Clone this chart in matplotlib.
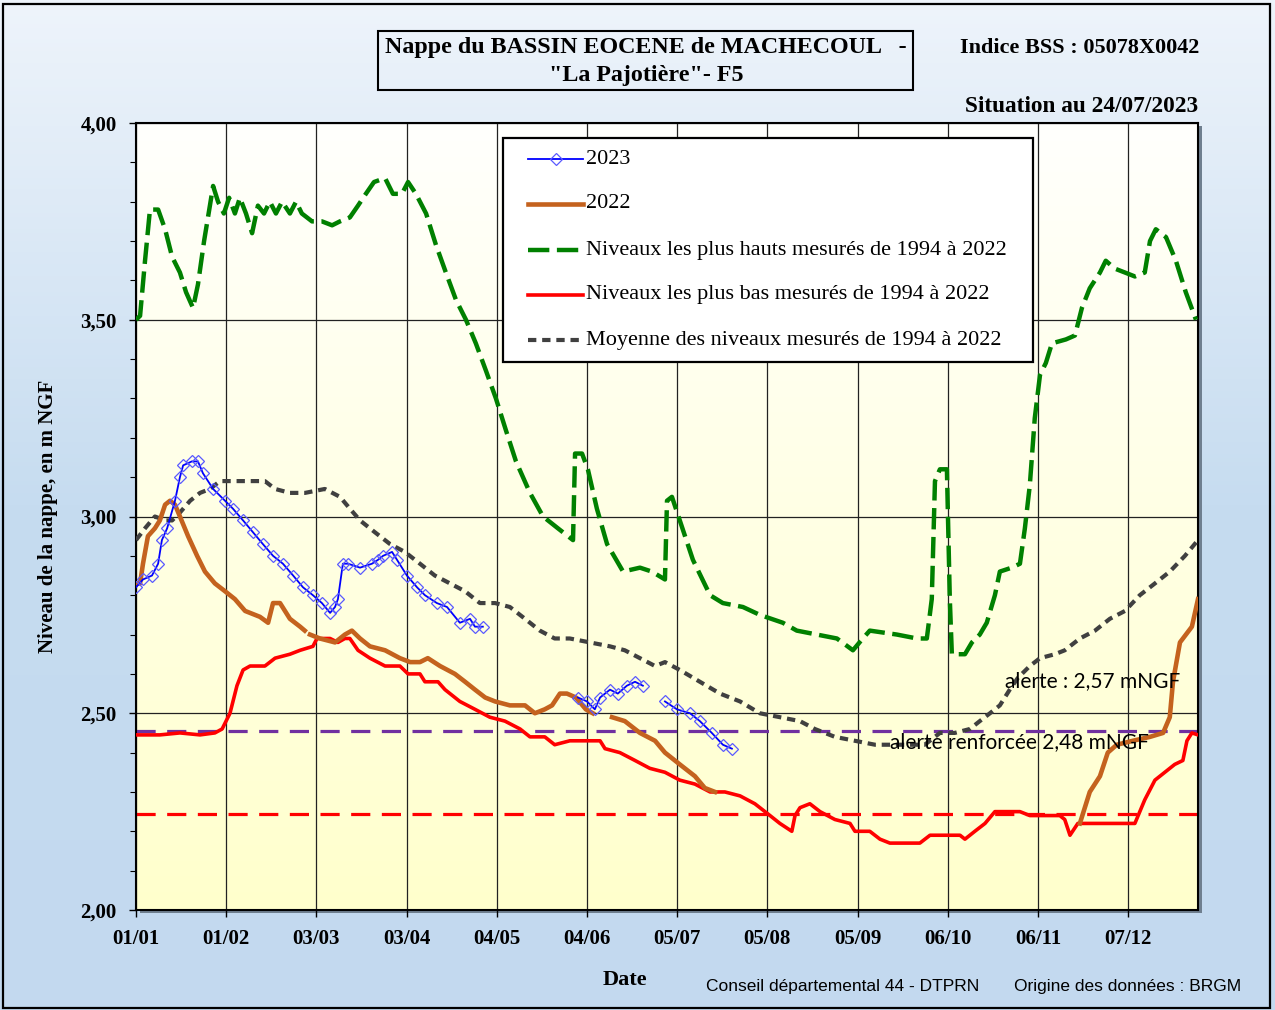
import numpy as np
import matplotlib
matplotlib.use("Agg")
import matplotlib.pyplot as plt
from matplotlib.lines import Line2D
from matplotlib.patches import Rectangle
from matplotlib.colors import LinearSegmentedColormap
from matplotlib.ticker import FuncFormatter, MultipleLocator

# jours depuis le 01/01 et niveaux en m NGF
j_2023 = [0, 2.4, 5.5, 7.6, 8.9, 10.7, 13.4, 15.1, 16.2, 19.2, 21.3, 23, 26.5, 30.6, 33.3, 36.8,
          40.2, 43.6, 47.1, 50.5, 54, 57.4, 60.8, 63.9, 66.7, 68.4, 69.4, 71.1, 72.9, 77, 81.1,
          83.2, 84.9, 88, 89.7, 93.1, 96.6, 99.3, 103.4, 106.9, 111.3, 114.8, 116.5, 119.2,
          np.nan,
          151.9, 155, 157.7, 159.5, 162.9, 165.6, 168.7, 171.5, 174.2,
          np.nan,
          181.8, 185.9, 190.4, 193.8, 197.9, 201.7, 204.8]
niv_2023 = [2.82, 2.84, 2.85, 2.88, 2.94, 2.97, 3.04, 3.10, 3.13, 3.14, 3.14, 3.11, 3.07, 3.04, 3.02, 2.99,
            2.96, 2.93, 2.90, 2.88, 2.85, 2.82, 2.80, 2.78, 2.755, 2.77, 2.79, 2.88, 2.88, 2.87, 2.88,
            2.89, 2.90, 2.91, 2.89, 2.85, 2.82, 2.80, 2.78, 2.77, 2.73, 2.74, 2.72, 2.72,
            np.nan,
            2.54, 2.53, 2.51, 2.54, 2.56, 2.55, 2.57, 2.58, 2.57,
            np.nan,
            2.53, 2.51, 2.50, 2.48, 2.45, 2.42, 2.41]

j_2022 = [0, 1.4, 2.4, 4.1, 6.5, 8.2, 10, 11.7, 13.4, 15.1, 17.9, 21, 23.7, 27.1, 30.6, 34, 37.5,
          42.6, 45.4, 47.1, 49.5, 52.9, 56.4, 58, np.nan, 59.8, 63.2, 68.4, 71.8, 74.2, 77, 80.4,
          85.6, 90.7, 94.2, 97.6, 100.3, 104.5, 109.6, 113.1, 116.5, 120, 123.4, 128.5, 133.7,
          137.1, 140.5, 143, 145.7, 148.1, 151.2, 154.6, 157, np.nan, 163.6, 168, 173.2, 178.4,
          181.8, 186.9, 192.1, 195.5, 199, np.nan,
          324.4, 327.8, 331.3, 334, 337.1, 342.6, 348.5, 353, 355.3, 356.4, 358.8, 362.9, 365]
niv_2022 = [2.83, 2.83, 2.88, 2.95, 2.97, 2.99, 3.03, 3.04, 3.03, 3.00, 2.95, 2.90, 2.86, 2.83, 2.81, 2.79, 2.76,
            2.745, 2.73, 2.78, 2.78, 2.74, 2.72, 2.71, np.nan, 2.70, 2.69, 2.68, 2.70, 2.71, 2.69, 2.67,
            2.66, 2.64, 2.63, 2.63, 2.64, 2.62, 2.60, 2.58, 2.56, 2.54, 2.53, 2.52, 2.52,
            2.50, 2.51, 2.52, 2.55, 2.55, 2.54, 2.51, 2.50, np.nan, 2.49, 2.48, 2.45, 2.43,
            2.40, 2.37, 2.34, 2.31, 2.30, np.nan,
            2.22, 2.30, 2.34, 2.40, 2.42, 2.43, 2.44, 2.45, 2.49, 2.58, 2.68, 2.72, 2.79]

j_max = [0, 1.4, 3.1, 4.8, 7.6, 10, 12.4, 15.1, 17.2, 19.6, 21.3, 23.4, 25.4, 26.5, 28.2, 30.2, 32,
         34, 35.7, 37.8, 39.9, 41.9, 44, 46, 48.1, 50.2, 52.9, 55, 57, 60.5, 63.9, 67.4, 70.1,
         73.5, 76.3, 79, 81.8, 85.6, 88.3, 91.4, 93.5, 96.2, 99.7, 103.1, 106.5, 110, 113.4,
         116.8, 120.3, 123.7, 127.1, 130.6, 135.4, 139.9, 145, 150.2, 150.9, 153.3, 155.3,
         158.4, 161.9, 167.4, 173.2, 177.3, 181.8, 182.5, 184.2, 186.9, 191.4, 197.3, 201.7,
         208.6, 214.4, 222.3, 227.1, 234, 240.9, 246.4, 249.8, 252.2, 261.5, 268.4, 271.8,
         273.5, 274.6, 276.3, 278.7, 279.7, 280.4, 284.9, 287.3, 290, 292.4, 295.2, 296.9,
         301, 303.8, 305.5, 307.2, 308.9, 310.7, 312.7, 314.8, 319.6, 322.7, 325.1, 327.8,
         331.3, 333.3, 336.4, 339.9, 343.3, 346.7, 348.5, 350.5, 354, 357.4, 360.8, 364.3]
niv_max = [3.50, 3.51, 3.65, 3.78, 3.78, 3.73, 3.66, 3.62, 3.57, 3.53, 3.59, 3.70, 3.79, 3.84, 3.80, 3.77, 3.81,
           3.77, 3.81, 3.77, 3.72, 3.79, 3.77, 3.80, 3.77, 3.80, 3.77, 3.80, 3.77, 3.75, 3.75, 3.74, 3.75,
           3.76, 3.79, 3.82, 3.85, 3.86, 3.82, 3.82, 3.85, 3.82, 3.77, 3.69, 3.62, 3.55, 3.50,
           3.44, 3.37, 3.30, 3.22, 3.14, 3.06, 3.00, 2.97, 2.94, 3.16, 3.16, 3.12,
           3.02, 2.93, 2.86, 2.87, 2.86, 2.84, 3.04, 3.05, 2.99, 2.89, 2.80, 2.78,
           2.77, 2.75, 2.73, 2.71, 2.70, 2.69, 2.66, 2.69, 2.71, 2.70, 2.69, 2.69,
           2.79, 3.09, 3.12, 3.12, 2.79, 2.65, 2.65, 2.68, 2.70, 2.73, 2.80, 2.86,
           2.87, 2.88, 2.97, 3.08, 3.25, 3.36, 3.39, 3.44, 3.45, 3.46, 3.53, 3.58,
           3.62, 3.65, 3.63, 3.62, 3.61, 3.62, 3.70, 3.73, 3.71, 3.65, 3.57, 3.50]

j_min = [0, 8.2, 15.1, 22, 27.1, 29.6, 32.3, 34.7, 36.8, 39.2, 44.3, 47.8, 52.9, 56.4, 60.8, 62.2,
         66.7, 69.4, 71.8, 73.5, 76.3, 80.4, 85.6, 90.7, 93.5, 97.6, 99.3, 103.8, 106.2, 111.3,
         116.5, 121.6, 126.8, 132, 135.4, 140.5, 143.9, 149.1, 152.6, 156, 159.5, 161.2, 166.3,
         171.5, 176.6, 181.8, 186.9, 192.1, 197.3, 202.4, 207.6, 212.7, 217.9, 221.3, 225.4,
         226.5, 228.2, 231.6, 235.1, 240.2, 245.4, 247.1, 252.2, 255.7, 259.1, 264.3, 269.4,
         272.9, 278, 283.2, 284.9, 288.3, 291.8, 295.2, 298.6, 303.8, 307.2, 312.4, 317.5,
         319.2, 321, 323.7, 327.8, 334.7, 339.9, 343.3, 345, 346.7, 350.2, 353.6, 357, 359.8,
         361.2, 362.9, 365]
niv_min = [2.445, 2.445, 2.45, 2.445, 2.45, 2.46, 2.50, 2.57, 2.61, 2.62, 2.62, 2.64, 2.65, 2.66, 2.67, 2.69,
           2.69, 2.68, 2.69, 2.69, 2.66, 2.64, 2.62, 2.62, 2.60, 2.60, 2.58, 2.58, 2.56, 2.53,
           2.51, 2.49, 2.48, 2.46, 2.44, 2.44, 2.42, 2.43, 2.43, 2.43, 2.43, 2.41, 2.40,
           2.38, 2.36, 2.35, 2.33, 2.32, 2.30, 2.30, 2.29, 2.27, 2.24, 2.22, 2.20,
           2.24, 2.26, 2.27, 2.25, 2.23, 2.22, 2.20, 2.20, 2.18, 2.17, 2.17, 2.17,
           2.19, 2.19, 2.19, 2.18, 2.20, 2.22, 2.25, 2.25, 2.25, 2.24, 2.24, 2.24,
           2.23, 2.19, 2.22, 2.22, 2.22, 2.22, 2.22, 2.25, 2.28, 2.33, 2.35, 2.37, 2.38,
           2.43, 2.45, 2.445]

j_moy = [0, 3.1, 6.5, 10, 12.4, 15.1, 18.6, 22, 25.4, 28.9, 34, 39.2, 44.3, 47.8, 52.9, 58.1,
         64.9, 70.1, 73.5, 77, 82.1, 87.3, 92.4, 97.6, 102.7, 107.9, 113.1, 118.2, 123.4, 128.5,
         133.7, 138.8, 143.9, 149.1, 156, 162.9, 168, 173.2, 178.4, 181.8, 186.9, 193.8, 200.7,
         207.6, 214.4, 221.3, 228.2, 233.3, 240.2, 247.1, 254, 260.8, 266, 271.1, 276.3, 281.4,
         286.6, 290, 293.5, 296.9, 300.3, 303.1, 307.2, 310.7, 315.8, 319.2, 324.4, 329.6,
         334.7, 339.9, 345, 350.2, 355.3, 360.5, 365]
niv_moy = [2.94, 2.97, 3.00, 2.99, 2.99, 3.01, 3.04, 3.06, 3.07, 3.09, 3.09, 3.09, 3.09, 3.07, 3.06, 3.06,
           3.07, 3.05, 3.02, 2.99, 2.96, 2.93, 2.91, 2.88, 2.85, 2.83, 2.81, 2.78, 2.78, 2.77,
           2.74, 2.71, 2.69, 2.69, 2.68, 2.67, 2.66, 2.64, 2.62, 2.63, 2.61, 2.58, 2.55,
           2.53, 2.50, 2.49, 2.48, 2.46, 2.44, 2.43, 2.42, 2.42, 2.42, 2.42, 2.45, 2.45,
           2.46, 2.48, 2.50, 2.52, 2.56, 2.59, 2.62, 2.64, 2.65, 2.66, 2.69, 2.71,
           2.74, 2.76, 2.80, 2.83, 2.86, 2.90, 2.94]

seuil_violet = 2.455
seuil_rouge = 2.245

mois_labels = ["01/01", "01/02", "03/03", "03/04", "04/05", "04/06",
               "05/07", "05/08", "05/09", "06/10", "06/11", "07/12"]

legende = ["2023", "2022",
           "Niveaux les plus hauts mesurés de 1994 à 2022",
           "Niveaux les plus bas mesurés de 1994 à 2022",
           "Moyenne des niveaux mesurés de 1994 à 2022"]

SERIF = "Liberation Serif"
W, H = 1275, 1010

fig = plt.figure(figsize=(W / 100, H / 100), dpi=100)

# fond de la figure
bg = fig.add_axes([0, 0, 1, 1], zorder=-10)
grad = np.linspace(0, 1, 256)[:, None]
cm_bg = LinearSegmentedColormap.from_list("bg", ["#eef4fb", "#c6dcf0", "#c3d9ef"])
bg.imshow(grad, cmap=cm_bg, aspect="auto", extent=[0, 1, 0, 1])
bg.set_xlim(0, 1)
bg.set_ylim(0, 1)
bg.set_axis_off()
bg.add_patch(Rectangle((3 / W, 1 - 1008 / H), 1267 / W, 1004 / H, fill=False,
                       ec="black", lw=1.6))
# ombre de la zone de tracé
bg.add_patch(Rectangle((140 / W, 1 - 913 / H), 1062 / W, 787 / H, color="#6f7f8f", lw=0))

ax = fig.add_axes([136 / W, 1 - 910 / H, 1062 / W, 787 / H])
cm_pa = LinearSegmentedColormap.from_list("pa", ["#fffffd", "#ffffcc"])
ax.imshow(grad, cmap=cm_pa, aspect="auto", extent=[0, 365, 2, 4], zorder=0)
ax.set_xlim(0, 365)
ax.set_ylim(2, 4)

ax.set_xticks(np.arange(len(mois_labels)) * 31)
ax.set_xticklabels(mois_labels)
ax.yaxis.set_major_locator(MultipleLocator(0.5))
ax.yaxis.set_minor_locator(MultipleLocator(0.1))
ax.yaxis.set_major_formatter(FuncFormatter(lambda v, p: f"{v:.2f}".replace(".", ",")))
ax.set_axisbelow(True)
ax.grid(True, which="major", color="#222222", lw=0.9)
for s in ax.spines.values():
    s.set_linewidth(1.5)
ax.tick_params(axis="both", which="major", direction="out", length=5, width=1, pad=9)
ax.tick_params(axis="y", which="minor", direction="out", length=4, width=0.8)
for lab in ax.get_xticklabels() + ax.get_yticklabels():
    lab.set_fontfamily(SERIF)
    lab.set_fontweight("bold")
    lab.set_fontsize(15)

ax.set_ylabel("Niveau de la nappe, en m NGF", family=SERIF, weight="bold", fontsize=15)
ax.yaxis.set_label_coords(-0.0735, 0.5)

# seuils
ax.axhline(seuil_violet, color="#7030a0", lw=2.3, dashes=(6, 3.6), zorder=2)
ax.axhline(seuil_rouge, color="#ff0000", lw=2.3, dashes=(6, 3.6), zorder=2)

# séries
ax.plot(j_max, niv_max, color="#008000", lw=3.2, dashes=(4.8, 1.7), zorder=3)
ax.plot(j_moy, niv_moy, color="#404040", lw=3.0, dashes=(2.0, 1.4), zorder=3)
ax.plot(j_min, niv_min, color="#ff0000", lw=2.6, zorder=3)
ax.plot(j_2022, niv_2022, color="#c4621e", lw=3.3, zorder=4)
ax.plot(j_2023, niv_2023, color="#0000ff", lw=1.3, marker="D", ms=6.5, mfc="none",
        mec="#5a5aff", mew=0.9, zorder=5)

ax.text(298.6, 2.582, "alerte : 2,57 mNGF", family="Lato", fontsize=15, va="center", zorder=6)
ax.text(259.1, 2.427, "alerte renforcée 2,48 mNGF", family="Lato", fontsize=15, va="center", zorder=6)

# légende
fig.add_artist(Rectangle((503 / W, 1 - 362 / H), 530 / W, 224 / H, fc="white", ec="black",
                         lw=1.6, transform=fig.transFigure, zorder=5))
styles = [dict(color="#0000ff", lw=1.3, marker="D", ms=6.5, mfc="none", mec="#5a5aff",
               mew=0.9, markevery=[1]),
          dict(color="#c4621e", lw=3.3),
          dict(color="#008000", lw=3.2, dashes=(4.8, 1.7)),
          dict(color="#ff0000", lw=2.6),
          dict(color="#404040", lw=3.0, dashes=(2.0, 1.4))]
rows = [159, 204, 250, 295, 340]
for lab, st, yr in zip(legende, styles, rows):
    fy = 1 - yr / H
    fig.add_artist(Line2D([528 / W, 556 / W, 583 / W], [fy, fy, fy],
                          transform=fig.transFigure, zorder=6, **st))
    fig.text(586 / W, fy, lab, family=SERIF, fontsize=16, va="center", ha="left", zorder=6)

# titres
fig.add_artist(Rectangle((378 / W, 1 - 90 / H), 535 / W, 59 / H, fill=False, ec="black",
                         lw=1.5, transform=fig.transFigure))
fig.text(646 / W, 1 - 48 / H, "Nappe du BASSIN EOCENE de MACHECOUL   -", family=SERIF,
         weight="bold", fontsize=17.3, ha="center", va="center")
fig.text(646 / W, 1 - 75 / H, "\"La Pajotière\"- F5", family=SERIF,
         weight="bold", fontsize=17.3, ha="center", va="center")
fig.text(960 / W, 1 - 48 / H, "Indice BSS : 05078X0042", family=SERIF,
         weight="bold", fontsize=16, ha="left", va="center")
fig.text(1198 / W, 1 - 106 / H, "Situation au 24/07/2023", family=SERIF,
         weight="bold", fontsize=16.8, ha="right", va="center")
fig.text(625 / W, 1 - 980 / H, "Date", family=SERIF, weight="bold", fontsize=16,
         ha="center", va="center")
fig.text(706 / W, 1 - 986 / H, "Conseil départemental 44 - DTPRN", family="Liberation Sans",
         fontsize=12.5, ha="left", va="center")
fig.text(1014 / W, 1 - 986 / H, "Origine des données : BRGM", family="Liberation Sans",
         fontsize=12.5, ha="left", va="center")

fig.savefig("out.png", dpi=100)
